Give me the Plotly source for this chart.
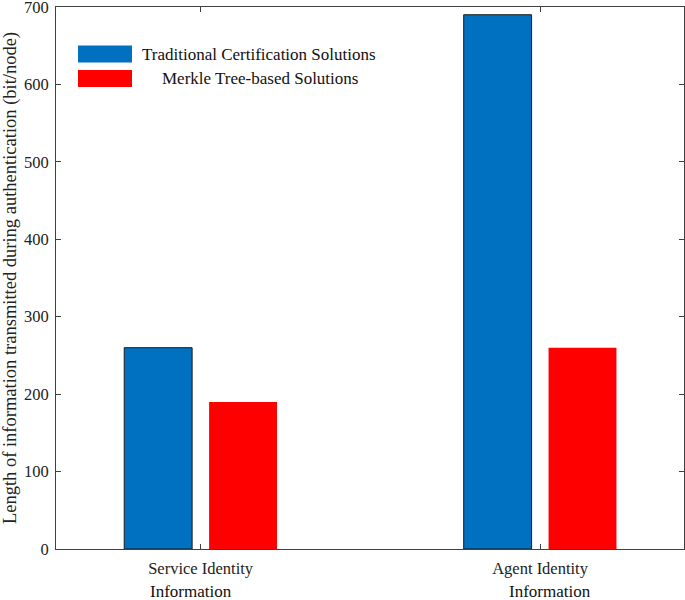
import plotly.graph_objects as go

categories = ["Service Identity", "Agent Identity"]
second_line = ["Information", "Information"]
traditional = [260, 690]
merkle = [190, 260]
series_names = ["Traditional Certification Solutions", "Merkle Tree-based Solutions"]
y_ticks = [0, 100, 200, 300, 400, 500, 600, 700]

FONT = "Liberation Serif"
BLUE = "#0070C0"
RED = "#FF0000"

L, R, T, B = 56, 1, 7, 51
PW, PH = 685 - L - R, 600 - T - B

fig = go.Figure()
fig.add_trace(go.Bar(x=categories, y=traditional, name=series_names[0],
                     width=0.2, offset=-0.225, marker_color=BLUE,
                     marker_line=dict(color="#1a1a1a", width=1), showlegend=False))
fig.add_trace(go.Bar(x=categories, y=merkle, name=series_names[1],
                     width=0.2, offset=0.025, marker_color=RED,
                     marker_line=dict(color=RED, width=0), showlegend=False))

axis_common = dict(showline=True, linecolor="#404040", linewidth=1, mirror="ticks",
                   ticks="inside", ticklen=5, tickcolor="#404040", showgrid=False,
                   zeroline=False, automargin=False, ticklabeloverflow="allow",
                   tickfont=dict(family=FONT, size=16.5, color="#222"))

fig.update_xaxes(range=[-0.426, 1.424], ticklabelstandoff=4, **axis_common)
fig.update_yaxes(range=[0, 700], tickmode="array", tickvals=y_ticks,
                 ticklabelstandoff=3, **axis_common,
                 title=dict(text="Length of information transmitted during authentication (bit/node)",
                            font=dict(family=FONT, size=18.5, color="#222"), standoff=5))

# second line of category labels
offsets = [-10, 10]
for c, t, dx in zip(categories, second_line, offsets):
    fig.add_annotation(x=c, y=0, xref="x", yref="paper", text=t, showarrow=False,
                       xshift=dx, yshift=-42, yanchor="middle",
                       font=dict(family=FONT, size=17, color="#111"))

# custom legend
legend_rows = [(series_names[0], BLUE, 54, 142), (series_names[1], RED, 78.5, 162)]
for name, col, ypx, tx in legend_rows:
    yc = 1 - (ypx - T) / PH
    fig.add_shape(type="rect", xref="paper", yref="paper",
                  x0=(78 - L) / PW, x1=(132 - L) / PW,
                  y0=yc - 8.5 / PH, y1=yc + 8.5 / PH,
                  fillcolor=col, line=dict(width=0))
    fig.add_annotation(x=(tx - L) / PW, y=yc, xref="paper", yref="paper", text=name,
                       showarrow=False, xanchor="left", yanchor="middle", xshift=-2,
                       font=dict(family=FONT, size=17, color="#111"))

fig.update_layout(width=685, height=600, margin=dict(l=L, r=R, t=T, b=B),
                  plot_bgcolor="white", paper_bgcolor="white", barmode="overlay",
                  font=dict(family=FONT))

fig.write_html("out.html", config={"displayModeBar": False},
               post_script="document.body.style.margin='0';document.body.style.overflow='hidden';")
